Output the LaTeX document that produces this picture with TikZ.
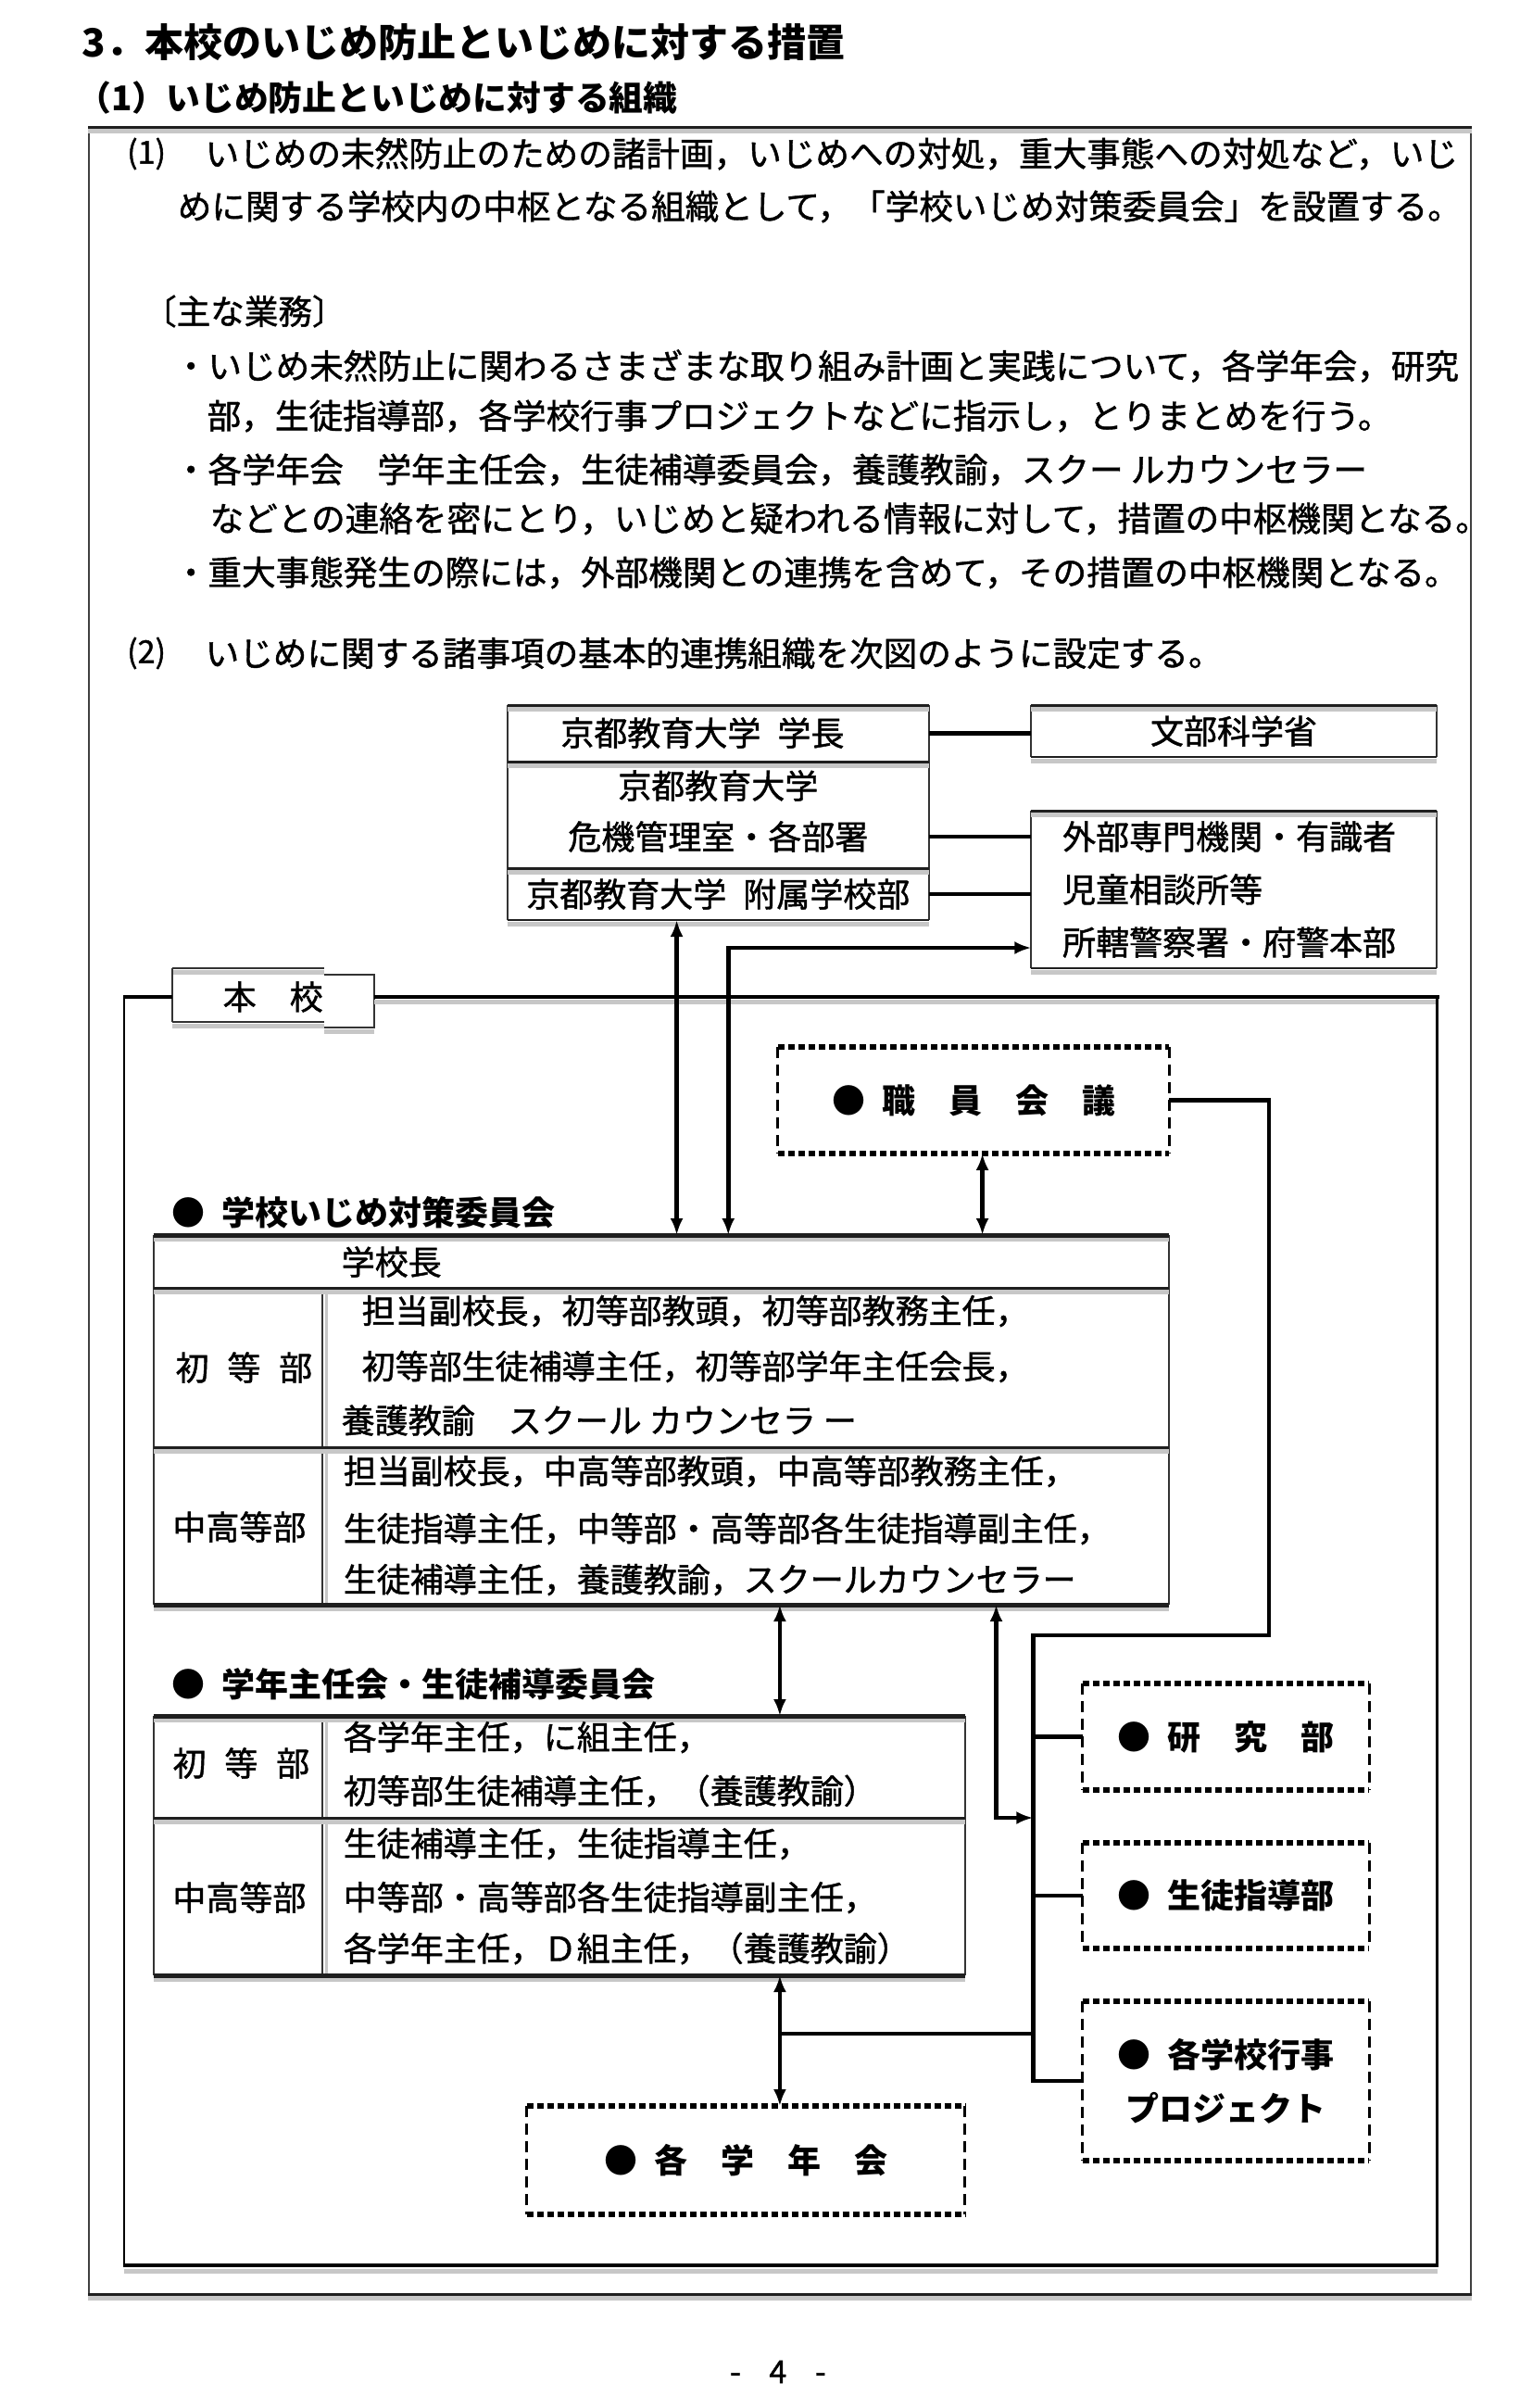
\documentclass[tikz,border=0pt]{standalone}
\usepackage{fontspec}
\setmainfont{Noto Sans CJK JP}[UprightFeatures={FakeBold=1.2}]
\usetikzlibrary{arrows.meta,calc}
\newcommand\jfs[1]{\fontsize{#1}{#1}\selectfont}
\newcommand\shl[3][3pt]{%
  \draw[line width=5pt, draw=black!22] ($#2+(0,4)$) -- ($#3+(0,4)$);
  \draw[line width=#1, draw=black!88] #2 -- #3;}
\newcommand\dbx[1]{%
  \draw[dotl] (#1.north west) -- (#1.north east);
  \draw[dotl] (#1.south west) -- (#1.south east);
  \draw[dshl] (#1.north west) -- (#1.south west);
  \draw[dshl] (#1.north east) -- (#1.south east);}
\begin{document}
\begin{tikzpicture}[x=0.994pt,y=-1pt,
  txt/.style={inner sep=0pt, outer sep=0pt, anchor=west, font=\jfs{36}},
  btxt/.style={inner sep=0pt, outer sep=0pt, anchor=west, font=\jfs{36.6}},
  ctxt/.style={inner sep=0pt, outer sep=0pt, font=\jfs{36}},
  bx/.style={inner sep=0pt, outer sep=0pt, anchor=north west},
  thinl/.style={line width=2pt, draw=black!80},
  conn/.style={line width=4.5pt, black},
  arr/.style={conn, {Latex[length=18pt,width=14pt]}-{Latex[length=18pt,width=14pt]}},
  dotl/.style={line width=5.5pt, dash pattern=on 7pt off 4pt},
  dshl/.style={line width=3pt, dash pattern=on 12pt off 7pt},
]
\useasboundingbox (0,0) rectangle (1650,2599);
\fill[white] (0,0) rectangle (1650,2599);

% headings
\node[txt, font=\bfseries\jfs{42}] (title) at (89,46) {3．本校のいじめ防止といじめに対する措置};
\node[txt, font=\bfseries\jfs{36.8}] (sub) at (84,106) {（1）いじめ防止といじめに対する組織};

% outer frame
\draw[line width=2pt, black!75] (97,137) rectangle (1598,2476);
\shl{(96,137)}{(1599,137)}
\shl{(96,2476)}{(1599,2476)}

% body text
\node[txt, font=\jfs{34}] (p1n) at (138,166) {(1)};
\node[btxt] (p1a) at (223,166) {いじめの未然防止のための諸計画，いじめへの対処，重大事態への対処など，いじ};
\node[btxt] (p1b) at (193,223) {めに関する学校内の中枢となる組織として，「学校いじめ対策委員会」を設置する。};
\node[btxt] (gyomu) at (155,336) {〔主な業務〕};
\node[btxt] (b1a) at (189,395) {・いじめ未然防止に関わるさまざまな取り組み計画と実践について，各学年会，研究};
\node[btxt] (b1b) at (225,449) {部，生徒指導部，各学校行事プロジェクトなどに指示し，とりまとめを行う。};
\node[btxt] (b2a) at (189,507) {・各学年会　学年主任会，生徒補導委員会，養護教諭，スクー ルカウンセラー};
\node[btxt] (b2b) at (228,560) {などとの連絡を密にとり，いじめと疑われる情報に対して，措置の中枢機関となる。};
\node[btxt] (b3) at (189,618) {・重大事態発生の際には，外部機関との連携を含めて，その措置の中枢機関となる。};
\node[txt, font=\jfs{34}] (p2n) at (138,705) {(2)};
\node[btxt] (p2a) at (223,705) {いじめに関する諸事項の基本的連携組織を次図のように設定する。};

% university block
\node[bx, minimum width=455.3, minimum height=61] (u1) at (551,761) {};
\node[bx, minimum width=455.3, minimum height=115] (u2) at (551,822) {};
\node[bx, minimum width=455.3, minimum height=56] (u3) at (551,937) {};
\draw[thinl] (u1.north west) -- (u3.south west);
\draw[thinl] (u1.north east) -- (u3.south east);
\shl{(u1.north west)}{(u1.north east)}
\shl{(u2.north west)}{(u2.north east)}
\shl{(u3.north west)}{(u3.north east)}
\shl[2.5pt]{(u3.south west)}{(u3.south east)}
\node[ctxt] (u1t) at (763,791) {京都教育大学\enspace 学長};
\node[ctxt] (u2t) at (780,848) {京都教育大学};
\node[ctxt] (u2u) at (780,903) {危機管理室・各部署};
\node[ctxt] (u3t) at (780,965) {京都教育大学\enspace 附属学校部};

% ministry and external boxes
\node[bx, minimum width=437.4, minimum height=56, font=\jfs{36}] (M) at (1120,761) {文部科学省};
\draw[thinl] (M.north west) -- (M.south west);
\draw[thinl] (M.north east) -- (M.south east);
\shl{(M.north west)}{(M.north east)}
\shl[2.5pt]{(M.south west)}{(M.south east)}
\node[bx, minimum width=437.4, minimum height=170] (E) at (1120,875) {};
\draw[thinl] (E.north west) -- (E.south west);
\draw[thinl] (E.north east) -- (E.south east);
\shl{(E.north west)}{(E.north east)}
\shl[2.5pt]{(E.south west)}{(E.south east)}
\node[txt] (e1) at (1154,903) {外部専門機関・有識者};
\node[txt] (e2) at (1154,960) {児童相談所等};
\node[txt] (e3) at (1154,1017) {所轄警察署・府警本部};

\draw[conn] (u1.east) -- (u1.east -| M.west);
\draw[conn] (u2u -| u2.east) -- (u2u -| E.west);
\draw[conn] (u3.east) -- (u3.east -| E.west);

% school tab and inner frame
\node[ctxt, minimum width=217.7, minimum height=62] (H) at (296.5,1076) {本　校};
\draw[line width=5pt, black!22] (187,1049) -- (352,1049);
\draw[line width=5pt, black!22] (187,1107) -- (352,1107);
\draw[line width=5pt, black!22] (352,1113) -- (406,1113);
\draw[thinl] (187,1045) -- (352,1045);
\draw[thinl] (352,1052) -- (406,1052) -- (406,1109) -- (352,1109);
\draw[thinl] (187,1103) -- (352,1103);
\draw[thinl] (187,1045) -- (187,1103);
\draw[line width=5pt, black!22] (406,1081) -- (1561,1081);
\draw[line width=4.5pt] (H.east) -- (1563,1076);
\draw[line width=4.5pt] (H.west) -- (134,1076);
\draw[line width=2.5pt] (135,1076) -- (135,2445);
\draw[line width=3pt] (1561,1076) -- (1561,2445);
\draw[line width=5pt, black!22] (135,2451) -- (1561,2451);
\draw[line width=4.5pt] (134,2445) -- (1562.5,2445);

% staff meeting
\node[bx, minimum width=422.4, minimum height=115, font=\bfseries\jfs{36}] (S) at (845,1130) {●\enspace 職　員　会　議};
\dbx{S}

% committee table
\node[txt, font=\bfseries\jfs{36}] (lab1) at (187,1309) {●\enspace 学校いじめ対策委員会};
\node[bx, minimum width=1096.4, minimum height=399] (T) at (167,1333) {};
\draw[thinl] (T.north west) -- (T.south west);
\draw[thinl] (T.north east) -- (T.south east);
\draw[line width=3pt, black!22] (355,1394) -- (355,1730);
\draw[thinl] (350,1390) -- (350,1732);
\shl[5pt]{(T.north west)}{(T.north east)}
\shl{(167,1390)}{(1270,1390)}
\shl{(167,1562)}{(1270,1562)}
\shl[5pt]{(T.south west)}{(T.south east)}
\node[txt] (t0) at (371,1362) {学校長};
\node[ctxt] (t1l) at (265,1476) {初\hspace{0.55em}等\hspace{0.55em}部};
\node[txt] (t1a) at (393,1415) {担当副校長，初等部教頭，初等部教務主任，};
\node[txt] (t1b) at (393,1475) {初等部生徒補導主任，初等部学年主任会長，};
\node[txt] (t1c) at (371,1533) {養護教諭　スクール カウンセラ ー};
\node[ctxt] (t2l) at (260,1648) {中高等部};
\node[txt] (t2a) at (373,1588) {担当副校長，中高等部教頭，中高等部教務主任，};
\node[txt] (t2b) at (373,1650) {生徒指導主任，中等部・高等部各生徒指導副主任，};
\node[txt] (t2c) at (373,1705) {生徒補導主任，養護教諭，スクールカウンセラー};

% grade heads table
\node[txt, font=\bfseries\jfs{36}] (lab2) at (187,1818) {●\enspace 学年主任会・生徒補導委員会};
\node[bx, minimum width=875.7, minimum height=280] (Y) at (167,1852) {};
\draw[thinl] (Y.north west) -- (Y.south west);
\draw[thinl] (Y.north east) -- (Y.south east);
\draw[line width=3pt, black!22] (355,1856) -- (355,2130);
\draw[thinl] (350,1852) -- (350,2132);
\shl[5pt]{(Y.north west)}{(Y.north east)}
\shl{(167,1962)}{(1048,1962)}
\shl[5pt]{(Y.south west)}{(Y.south east)}
\node[ctxt] (y1l) at (262,1903) {初\hspace{0.55em}等\hspace{0.55em}部};
\node[txt] (y1a) at (373,1875) {各学年主任，に組主任，};
\node[txt] (y1b) at (373,1933) {初等部生徒補導主任，（養護教諭）};
\node[ctxt] (y2l) at (260,2048) {中高等部};
\node[txt] (y2a) at (373,1990) {生徒補導主任，生徒指導主任，};
\node[txt] (y2b) at (373,2048) {中等部・高等部各生徒指導副主任，};
\node[txt] (y2c) at (373,2103) {各学年主任，Ｄ組主任，（養護教諭）};

% dashed boxes
\node[bx, minimum width=309.1, minimum height=115, font=\bfseries\jfs{36}] (K) at (1176,1817) {●\enspace 研　究　部};
\dbx{K}
\node[bx, minimum width=309.1, minimum height=114, font=\bfseries\jfs{36}] (G) at (1176,1989) {●\enspace 生徒指導部};
\dbx{G}
\node[bx, minimum width=309.1, minimum height=172, align=center, font=\bfseries\fontsize{36}{58}\selectfont] (P) at (1176,2160) {●\enspace 各学校行事\\プロジェクト};
\dbx{P}
\node[bx, minimum width=473.1, minimum height=117, font=\bfseries\jfs{36}] (W) at (572,2273) {●\enspace 各　学　年　会};
\dbx{W}

% connectors
\coordinate (k1) at (735,1000);
\draw[arr] (u3.south -| k1) -- (T.north -| k1);
\coordinate (k2) at (791,1023);
\draw[arr] (T.north -| k2) -- (k2) -- (k2 -| E.west);
\coordinate (k3) at (1067,1200);
\draw[arr] (S.south -| k3) -- (T.north -| k3);
\coordinate (b1) at (1378,1765);
\coordinate (b2) at (1122,1765);
\draw[conn] (S.east) -| (b1) -- (b2) |- (P.west);
\draw[conn] (b2 |- K.west) -- (K.west);
\draw[conn] (b2 |- G.west) -- (G.west);
\coordinate (k4) at (1082,1962);
\draw[arr] (T.south -| k4) -- (k4) -- (k4 -| b2);
\coordinate (k5) at (847,2195);
\draw[arr] (T.south -| k5) -- (Y.north -| k5);
\draw[arr] (Y.south -| k5) -- (W.north -| k5);
\draw[conn] (k5) -- (k5 -| b2);

% page number
\node[ctxt, font=\jfs{34}] (pg) at (845,2560) {-\hspace{0.9em}4\hspace{0.9em}-};
\end{tikzpicture}
\end{document}
